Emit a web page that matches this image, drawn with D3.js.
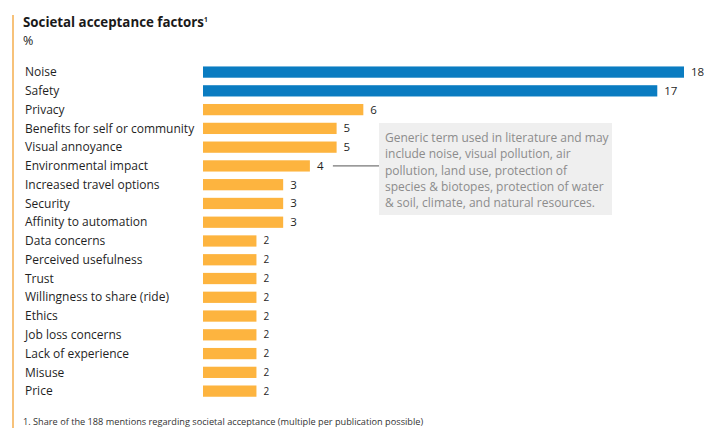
<!DOCTYPE html>
<html>
<head>
<meta charset="utf-8">
<script src="https://cdn.jsdelivr.net/npm/d3@7"></script>
<style>
  html, body { margin: 0; padding: 0; background: #fff; }
  svg { display: block; font-family: "Open Sans", "Noto Sans", sans-serif; }
</style>
</head>
<body>
<svg id="chart" width="704" height="428"></svg>
<script>
// Societal acceptance factors, share of mentions in %
const categories = [
  "Noise", "Safety", "Privacy", "Benefits for self or community", "Visual annoyance",
  "Environmental impact", "Increased travel options", "Security", "Affinity to automation",
  "Data concerns", "Perceived usefulness", "Trust", "Willingness to share (ride)", "Ethics",
  "Job loss concerns", "Lack of experience", "Misuse", "Price"
];
const values = [18, 17, 6, 5, 5, 4, 3, 3, 3, 2, 2, 2, 2, 2, 2, 2, 2, 2];
const highlighted = ["Noise", "Safety"];
const noteCategory = "Environmental impact";
const noteLines = [
  "Generic term used in literature and may",
  "include noise, visual pollution, air",
  "pollution, land use, protection of",
  "species & biotopes, protection of water",
  "& soil, climate, and natural resources."
];
const footnote = "1. Share of the 188 mentions regarding societal acceptance (multiple per publication possible)";

const svg = d3.select("#chart");
const BLUE = "#0a7cc1", ORANGE = "#fdb43f";

// accent rule down the left edge
svg.append("line")
  .attr("x1", 13).attr("x2", 13).attr("y1", 15).attr("y2", 428)
  .attr("stroke", "#f7c27a").attr("stroke-width", 2);

// title
const title = svg.append("text").attr("x", 23).attr("y", 27)
  .attr("font-size", 13.3).attr("font-weight", 700).attr("fill", "#1a1a1a");
title.append("tspan").text("Societal acceptance factors");
title.append("tspan").attr("font-size", 6.5).attr("dy", -5).text("1");
svg.append("text").attr("x", 23).attr("y", 45)
  .attr("font-size", 12.5).attr("fill", "#1a1a1a").text("%");

const x = d3.scaleLinear().domain([0, 18]).range([203, 684]);
const y = d3.scaleBand().domain(categories).range([62.7, 400.5])
  .paddingInner(0.4).paddingOuter(0.2);

const rows = categories.map((c, i) => ({ c, v: values[i] }));

// category labels
svg.append("g").selectAll("text").data(rows).join("text")
  .attr("x", 25)
  .attr("y", d => y(d.c) + y.bandwidth() / 2)
  .attr("dy", "0.35em")
  .attr("font-size", 12)
  .attr("fill", "#1f1f1f")
  .text(d => d.c);

// bars
svg.append("g").selectAll("rect").data(rows).join("rect")
  .attr("x", x(0))
  .attr("y", d => y(d.c))
  .attr("width", d => x(d.v) - x(0))
  .attr("height", y.bandwidth())
  .attr("fill", d => highlighted.includes(d.c) ? BLUE : ORANGE);

// value labels
svg.append("g").selectAll("text").data(rows).join("text")
  .attr("x", d => x(d.v) + 7)
  .attr("y", d => y(d.c) + y.bandwidth() / 2)
  .attr("dy", "0.35em")
  .attr("font-size", d => d.v < 3 ? 10 : 11.5)
  .attr("fill", "#1f1f1f")
  .text(d => d.v);

// explanatory note for environmental impact
const noteRow = rows.find(d => d.c === noteCategory);
const noteY = y(noteRow.c) + y.bandwidth() / 2;
svg.append("rect")
  .attr("x", 379).attr("y", 123).attr("width", 233).attr("height", 92)
  .attr("fill", "#efefef");
svg.append("line")
  .attr("x1", x(noteRow.v) + 23).attr("x2", 379)
  .attr("y1", noteY).attr("y2", noteY)
  .attr("stroke", "#555").attr("stroke-width", 1);
svg.append("g").selectAll("text").data(noteLines).join("text")
  .attr("x", 385)
  .attr("y", (d, i) => 138 + i * 16.2)
  .attr("dy", "0.35em")
  .attr("font-size", 12)
  .attr("fill", "#8c8c8c")
  .text(d => d);

// footnote
svg.append("text").attr("x", 23).attr("y", 425)
  .attr("font-size", 9.2).attr("fill", "#333").text(footnote);
</script>
</body>
</html>
